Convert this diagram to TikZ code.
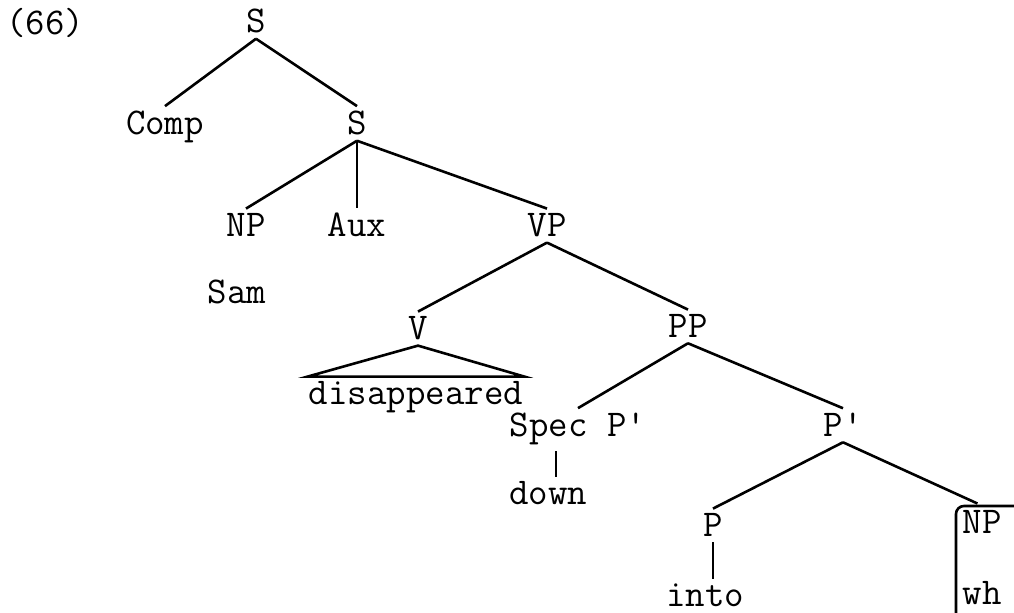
\documentclass[tikz,border=0pt]{standalone}
\usepackage{fontspec}
\begin{document}
\begin{tikzpicture}[x=0.5pt,y=-0.5pt,line width=1.3pt,
    every node/.style={font=\ttfamily\fontsize{18.9}{22}\selectfont,inner sep=2pt,anchor=base}]
            \useasboundingbox (0,0) rectangle (1014,613);
            \node (num) at (45,35) {(66)};
            \node (s) at (256,33) {S};
            \node (comp) at (165,135) {Comp};
            \node (sbar) at (357,135) {S};
            \node (np) at (246,237) {NP};
            \node (aux) at (357,237) {Aux};
            \node (vp) at (547,237) {VP};
            \node (sam) at (237,304) {Sam};
            \node (v) at (418,340) {V};
            \node (pp) at (688,338) {PP};
            \node[inner xsep=0pt] (dis) at (416,405) {disappeared};
            \node (specp) at (578,437) {Spec P\textquotesingle};
            \node (down) at (548,505) {down};
            \node (pbar) at (843,437) {P\textquotesingle};
            \node (p) at (713,537) {P};
            \node (into) at (705,607) {into};
            \node (npwh) at (982,534) {NP};
            \node (wh) at (982,605) {wh};
            \draw (s.south) -- (comp.north);
            \draw (s.south) -- (sbar.north);
            \draw (sbar.south) -- (np.north);
            \draw (sbar.south) -- (aux.north);
            \draw (sbar.south) -- (vp.north);
            \draw (vp.south) -- (v.north);
            \draw (vp.south) -- (pp.north);
            \draw (v.south) -- (dis.north west) -- (dis.north east) -- cycle;
            \draw (pp.south) -- (specp.north);
            \draw (pp.south) -- (pbar.north);
            \draw ([xshift=4pt]down.north) -- ([xshift=4pt]down.north |- specp.south);
            \draw (pbar.south) -- (p.north);
            \draw[shorten >=2.5pt] (pbar.south) -- (npwh.north);
            \draw (p.south) -- (p.south |- into.north);
            % bracket round the wh phrase
            \draw[rounded corners=4pt] (1016,506) -- (956,506) -- (956,616);
        \end{tikzpicture}
\end{document}
